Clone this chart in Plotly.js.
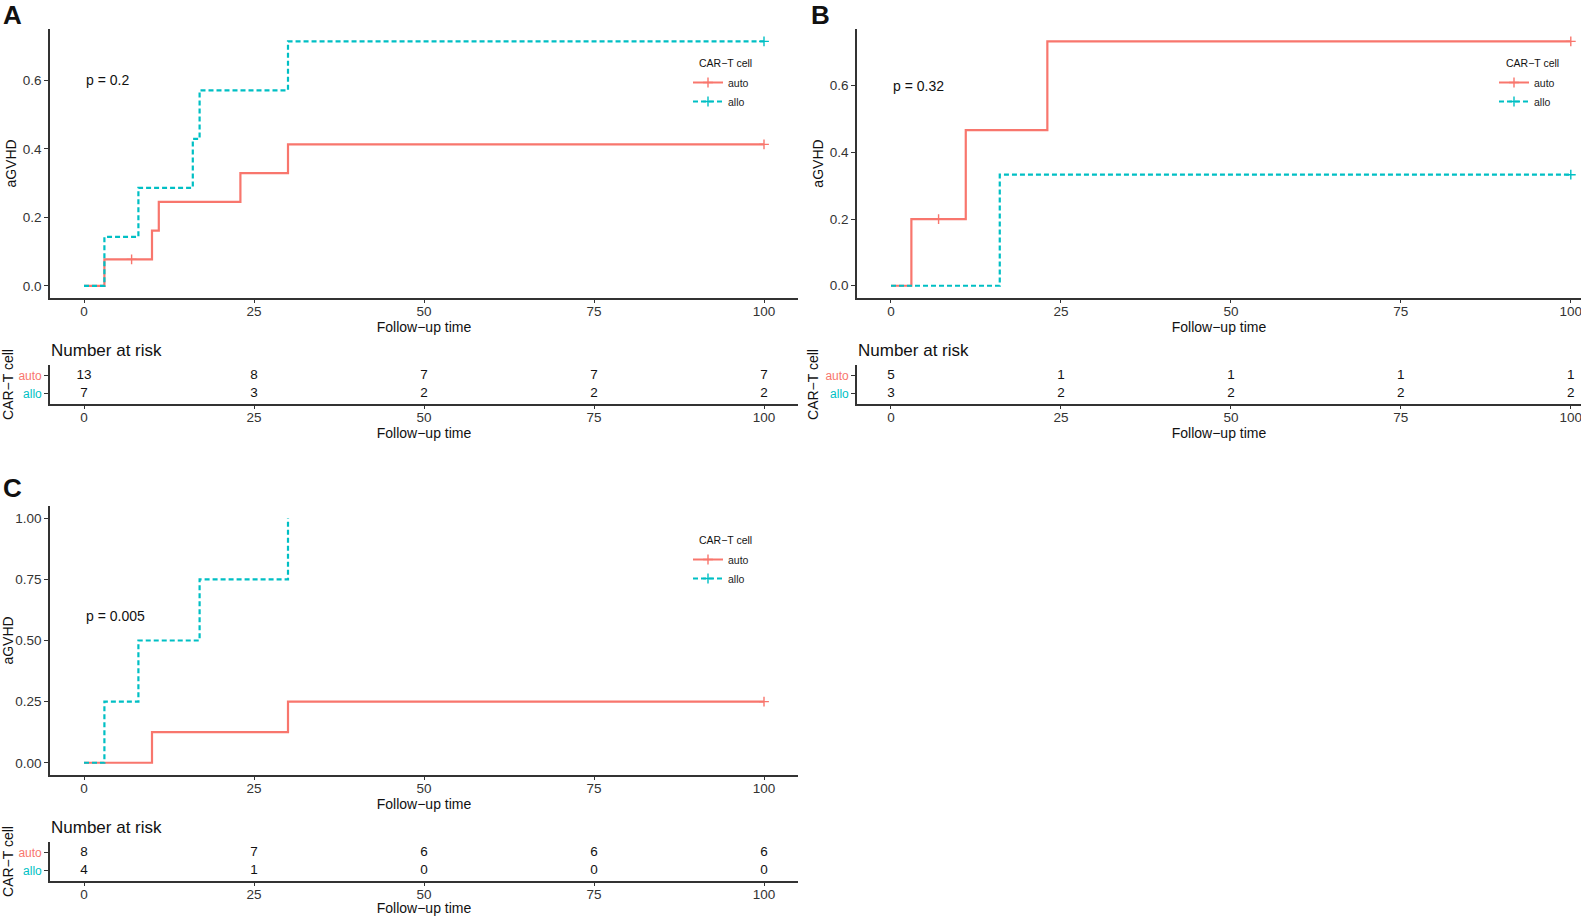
<!DOCTYPE html>
<html><head><meta charset="utf-8">
<script src="https://cdn.plot.ly/plotly-3.0.1.min.js"></script>
<style>html,body{margin:0;padding:0;background:#fff}#chart{width:1581px;height:916px}</style>
</head><body><div id="chart"></div>
<script>
// ---------- data ----------
const groups = ['auto', 'allo'];
const groupColors = ['#F8766D', '#00BFC4'];
const xTicks = [0, 25, 50, 75, 100];
const riskTimes = [0, 25, 50, 75, 100];

// Panel A
const A_auto_time = [0, 3, 10, 11, 23, 30, 100];
const A_auto_cif  = [0, 0.077, 0.161, 0.245, 0.329, 0.413, 0.413];
const A_auto_cens_time = [7, 100];
const A_auto_cens_cif  = [0.077, 0.413];
const A_allo_time = [0, 3, 8, 16, 17, 30, 100];
const A_allo_cif  = [0, 0.143, 0.286, 0.429, 0.571, 0.714, 0.714];
const A_allo_cens_time = [100];
const A_allo_cens_cif  = [0.714];
const A_auto_risk = [13, 8, 7, 7, 7];
const A_allo_risk = [7, 3, 2, 2, 2];
const A_pval = 'p = 0.2';

// Panel B
const B_auto_time = [0, 3, 11, 23, 100];
const B_auto_cif  = [0, 0.2, 0.467, 0.733, 0.733];
const B_auto_cens_time = [7, 100];
const B_auto_cens_cif  = [0.2, 0.733];
const B_allo_time = [0, 16, 100];
const B_allo_cif  = [0, 0.333, 0.333];
const B_allo_cens_time = [100];
const B_allo_cens_cif  = [0.333];
const B_auto_risk = [5, 1, 1, 1, 1];
const B_allo_risk = [3, 2, 2, 2, 2];
const B_pval = 'p = 0.32';

// Panel C
const C_auto_time = [0, 10, 30, 100];
const C_auto_cif  = [0, 0.125, 0.25, 0.25];
const C_auto_cens_time = [100];
const C_auto_cens_cif  = [0.25];
const C_allo_time = [0, 3, 8, 17, 30];
const C_allo_cif  = [0, 0.25, 0.5, 0.75, 1.0];
const C_allo_cens_time = [];
const C_allo_cens_cif  = [];
const C_auto_risk = [8, 7, 6, 6, 6];
const C_allo_risk = [4, 1, 0, 0, 0];
const C_pval = 'p = 0.005';

const yTicksAB = [0, 0.2, 0.4, 0.6];
const yTicksC = [0, 0.25, 0.5, 0.75, 1.0];

// ---------- layout helpers ----------
const W = 1581, H = 916;
const FONT = 'Liberation Sans, Arial, sans-serif';
const NARROW = 'Liberation Sans Narrow, Liberation Sans, Arial, sans-serif';
const px = v => v / W;
const py = v => 1 - v / H;
const AX = '#333333';

function xAxis(x0, x1, range, anchor) {
  return {
    domain: [px(x0), px(x1)], range: range, anchor: anchor,
    showline: true, linecolor: AX, linewidth: 1.6, mirror: false,
    ticks: 'outside', ticklen: 3, tickwidth: 1.2, tickcolor: AX,
    tickvals: xTicks, showgrid: false, zeroline: false,
    ticklabelstandoff: -3, ticklabeloverflow: 'allow',
    tickfont: {family: FONT, size: 13.5, color: '#333'},
    title: {text: 'Follow−up time', font: {family: FONT, size: 14, color: '#111'}, standoff: 0},
    fixedrange: true
  };
}
function yAxis(y0, y1, range, ticks, fmt, anchor) {
  return {
    domain: [py(y1), py(y0)], range: range, anchor: anchor,
    showline: true, linecolor: AX, linewidth: 1.6,
    ticks: 'outside', ticklen: 4, tickwidth: 1.2, tickcolor: AX,
    tickvals: ticks, tickformat: fmt, showgrid: false, zeroline: false,
    tickfont: {family: FONT, size: 13.5, color: '#333'},
    title: {text: 'aGVHD', font: {family: FONT, size: 14, color: '#111'}, standoff: 3},
    fixedrange: true
  };
}
function riskY(y0, y1, anchor) {
  return {
    domain: [py(y1), py(y0)], type: 'category', categoryarray: ['allo', 'auto'],
    range: [-0.6, 1.6], anchor: anchor,
    showline: true, linecolor: AX, linewidth: 1.6,
    ticks: 'outside', ticklen: 4, tickwidth: 1.2, tickcolor: AX,
    tickvals: groups,
    ticktext: groups.map((g, i) => '<span style="color:' + groupColors[i] + '">' + g + '</span>'),
    tickfont: {family: NARROW, size: 12},
    showgrid: false, zeroline: false,
    title: {text: 'CAR−T cell', font: {family: FONT, size: 14, color: '#111'}, standoff: 4},
    fixedrange: true
  };
}

const traces = [];
function panel(xa, ya, xr, yr, legendId, d) {
  const series = [
    {t: d.autoT, c: d.autoC, ct: d.autoCT, cc: d.autoCC, col: groupColors[0], dash: 'solid', name: groups[0]},
    {t: d.alloT, c: d.alloC, ct: d.alloCT, cc: d.alloCC, col: groupColors[1], dash: '5px,3px', name: groups[1]}
  ];
  series.forEach(s => {
    traces.push({x: s.t, y: s.c, xaxis: xa, yaxis: ya, mode: 'lines', line: {shape: 'hv', color: s.col, width: 2.2, dash: s.dash}, showlegend: false, hoverinfo: 'x+y'});
    if (s.ct.length) traces.push({x: s.ct, y: s.cc, xaxis: xa, yaxis: ya, mode: 'markers', marker: {symbol: 'cross-thin', size: 7, line: {width: 1.4, color: s.col}, color: s.col}, showlegend: false, hoverinfo: 'x+y'});
    traces.push({x: [null], y: [null], xaxis: xa, yaxis: ya, mode: 'lines+markers', name: s.name, legend: legendId,
      line: {color: s.col, width: 2, dash: s.dash}, marker: {symbol: 'cross-thin', size: 7, line: {width: 1.4, color: s.col}, color: s.col}});
  });
  [d.autoRisk, d.alloRisk].forEach((r, i) => {
    traces.push({x: riskTimes, y: riskTimes.map(() => groups[i]), text: r.map(String), xaxis: xr, yaxis: yr, mode: 'text',
      textposition: 'middle center', textfont: {family: NARROW, size: 13.5, color: '#111'}, showlegend: false, hoverinfo: 'text'});
  });
}

panel('x', 'y', 'x2', 'y2', 'legend', {autoT: A_auto_time, autoC: A_auto_cif, autoCT: A_auto_cens_time, autoCC: A_auto_cens_cif,
  alloT: A_allo_time, alloC: A_allo_cif, alloCT: A_allo_cens_time, alloCC: A_allo_cens_cif, autoRisk: A_auto_risk, alloRisk: A_allo_risk});
panel('x3', 'y3', 'x4', 'y4', 'legend2', {autoT: B_auto_time, autoC: B_auto_cif, autoCT: B_auto_cens_time, autoCC: B_auto_cens_cif,
  alloT: B_allo_time, alloC: B_allo_cif, alloCT: B_allo_cens_time, alloCC: B_allo_cens_cif, autoRisk: B_auto_risk, alloRisk: B_allo_risk});
panel('x5', 'y5', 'x6', 'y6', 'legend3', {autoT: C_auto_time, autoC: C_auto_cif, autoCT: C_auto_cens_time, autoCC: C_auto_cens_cif,
  alloT: C_allo_time, alloC: C_allo_cif, alloCT: C_allo_cens_time, alloCC: C_allo_cens_cif, autoRisk: C_auto_risk, alloRisk: C_allo_risk});

function legend(xPx, yPx) {
  return {x: px(xPx), y: py(yPx), xanchor: 'left', yanchor: 'top', bgcolor: 'rgba(0,0,0,0)',
    font: {family: FONT, size: 10.5, color: '#222'}, itemwidth: 30, tracegroupgap: 0, itemclick: false, itemdoubleclick: false};
}

const ann = [];
function txt(x, y, text, size, opts) {
  ann.push(Object.assign({xref: 'paper', yref: 'paper', x: px(x), y: py(y), text: text, showarrow: false,
    xanchor: 'left', yanchor: 'middle', font: {family: FONT, size: size, color: '#111'}}, opts || {}));
}
txt(1, 15, '<b>A</b>', 26);
txt(809, 15, '<b>B</b>', 26);
txt(1, 488, '<b>C</b>', 26);
txt(697, 63, 'CAR−T cell', 10.5);
txt(1504, 63, 'CAR−T cell', 10.5);
txt(697, 540, 'CAR−T cell', 10.5);
txt(49, 350, 'Number at risk', 17, {font: {family: NARROW, size: 17, color: '#111'}});
txt(856, 350, 'Number at risk', 17, {font: {family: NARROW, size: 17, color: '#111'}});
txt(49, 827, 'Number at risk', 17, {font: {family: NARROW, size: 17, color: '#111'}});
[['x', 'y', A_pval], ['x3', 'y3', B_pval], ['x5', 'y5', C_pval]].forEach(p => {
  ann.push({xref: p[0], yref: p[1], x: 0, y: 0.6, text: p[2], showarrow: false, xanchor: 'left', yanchor: 'middle',
    font: {family: FONT, size: 14, color: '#111'}});
});

const layout = {
  width: W, height: H, margin: {l: 0, r: 0, t: 0, b: 0},
  paper_bgcolor: '#fff', plot_bgcolor: 'rgba(0,0,0,0)',
  font: {family: FONT},
  xaxis:  xAxis(50, 798, [-5, 105], 'y'),
  yaxis:  yAxis(29, 298, [-0.0357, 0.75], yTicksAB, '.1f', 'x'),
  xaxis2: xAxis(50, 798, [-5, 105], 'y2'),
  yaxis2: riskY(365, 404, 'x2'),
  xaxis3: xAxis(857, 1581, [-5, 101.5], 'y3'),
  yaxis3: yAxis(29, 298, [-0.0367, 0.77], yTicksAB, '.1f', 'x3'),
  xaxis4: xAxis(857, 1581, [-5, 101.5], 'y4'),
  yaxis4: riskY(365, 404, 'x4'),
  xaxis5: xAxis(50, 798, [-5, 105], 'y5'),
  yaxis5: yAxis(506, 775, [-0.05, 1.05], yTicksC, '.2f', 'x5'),
  xaxis6: xAxis(50, 798, [-5, 105], 'y6'),
  yaxis6: riskY(842, 881, 'x6'),
  legend: legend(688, 68),
  legend2: legend(1494, 68),
  legend3: legend(688, 545),
  annotations: ann,
  showlegend: true
};

Plotly.newPlot('chart', traces, layout, {displayModeBar: false, staticPlot: false});
</script>
</body></html>
